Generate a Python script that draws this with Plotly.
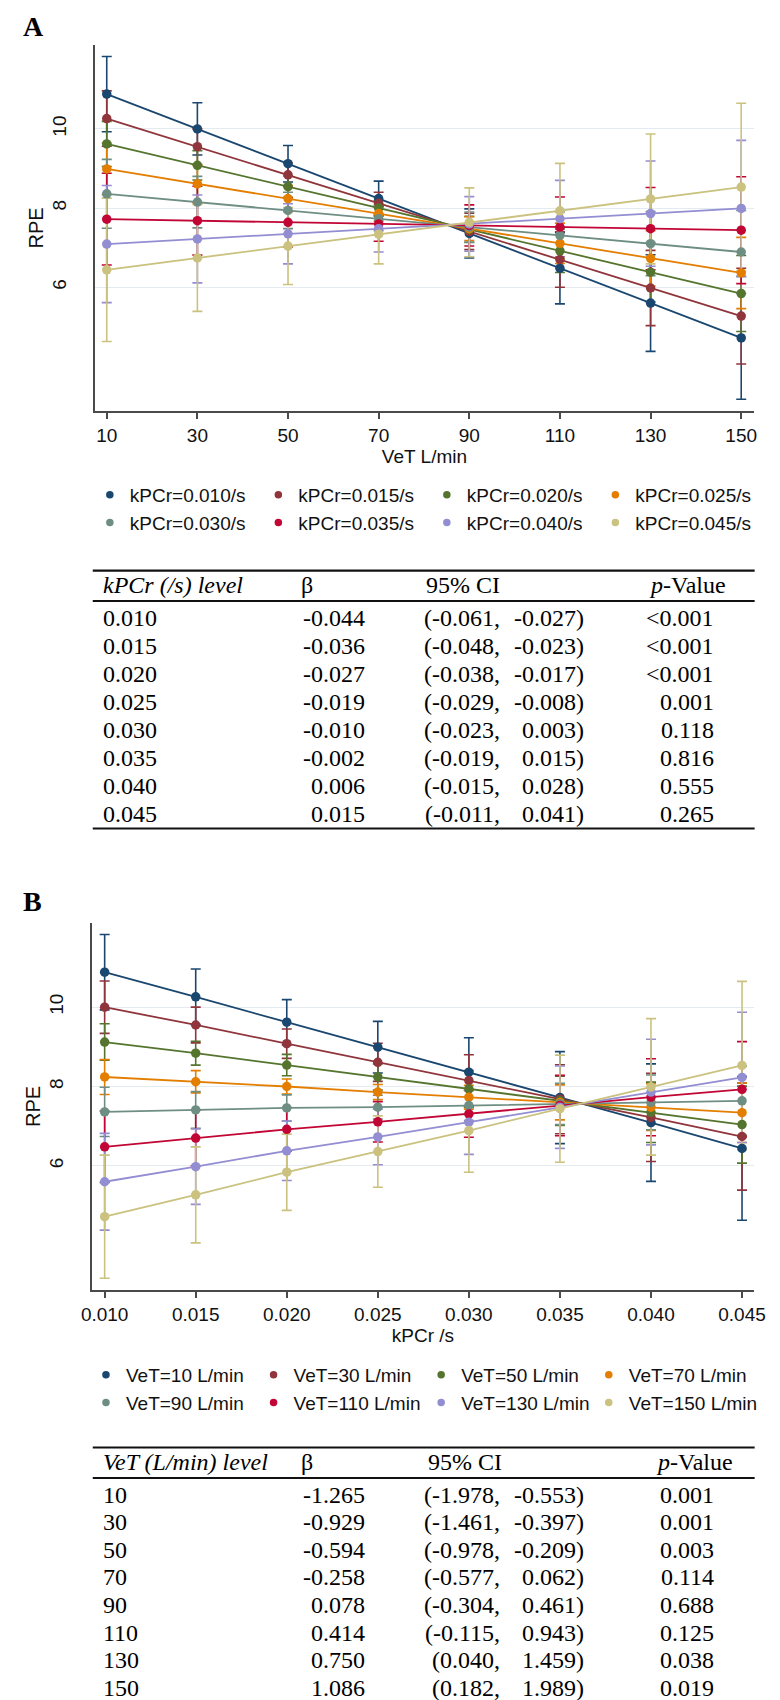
import plotly.graph_objects as go

W, H = 780, 1700

# ---------------- data ----------------
VET_LEVELS = [10, 30, 50, 70, 90, 110, 130, 150]
KPCR_LEVELS = [0.010, 0.015, 0.020, 0.025, 0.030, 0.035, 0.040, 0.045]
KPCR_TICKS = ["0.010", "0.015", "0.020", "0.025", "0.030", "0.035", "0.040", "0.045"]

COLORS = ["#1a476f", "#90353b", "#55752f", "#e37e00",
          "#6e8e84", "#c10534", "#938dd2", "#cac27e"]

# Panel A: predicted RPE vs VeT, one series per kPCr level
A_NAMES = ["kPCr=0.010/s", "kPCr=0.015/s", "kPCr=0.020/s", "kPCr=0.025/s",
           "kPCr=0.030/s", "kPCr=0.035/s", "kPCr=0.040/s", "kPCr=0.045/s"]
A_K010 = [10.88, 10.00, 9.12, 8.24, 7.36, 6.48, 5.60, 4.72]
A_K015 = [10.26, 9.55, 8.84, 8.12, 7.41, 6.70, 5.98, 5.27]
A_K020 = [9.62, 9.08, 8.54, 8.00, 7.46, 6.92, 6.38, 5.84]
A_K025 = [8.99, 8.61, 8.24, 7.86, 7.48, 7.11, 6.73, 6.36]
A_K030 = [8.36, 8.15, 7.94, 7.73, 7.52, 7.31, 7.10, 6.89]
A_K035 = [7.72, 7.68, 7.64, 7.60, 7.56, 7.52, 7.48, 7.44]
A_K040 = [7.09, 7.22, 7.35, 7.48, 7.60, 7.73, 7.86, 7.99]
A_K045 = [6.44, 6.74, 7.04, 7.34, 7.64, 7.93, 8.23, 8.53]
# 95% CI half-widths
A_CI_K010 = [0.95, 0.66, 0.46, 0.44, 0.62, 0.90, 1.22, 1.55]
A_CI_K015 = [0.70, 0.45, 0.30, 0.28, 0.46, 0.70, 0.95, 1.21]
A_CI_K020 = [0.57, 0.37, 0.27, 0.19, 0.33, 0.55, 0.75, 0.96]
A_CI_K025 = [0.65, 0.48, 0.33, 0.19, 0.30, 0.51, 0.70, 0.90]
A_CI_K030 = [0.87, 0.65, 0.46, 0.30, 0.38, 0.59, 0.81, 1.05]
A_CI_K035 = [1.16, 0.87, 0.62, 0.44, 0.52, 0.76, 1.04, 1.35]
A_CI_K040 = [1.48, 1.11, 0.76, 0.59, 0.69, 0.97, 1.33, 1.72]
A_CI_K045 = [1.81, 1.35, 0.97, 0.75, 0.87, 1.20, 1.64, 2.12]

# Panel B: predicted RPE vs kPCr, one series per VeT level
B_NAMES = ["VeT=10 L/min", "VeT=30 L/min", "VeT=50 L/min", "VeT=70 L/min",
           "VeT=90 L/min", "VeT=110 L/min", "VeT=130 L/min", "VeT=150 L/min"]
B_V10 = [10.88, 10.26, 9.62, 8.99, 8.36, 7.72, 7.09, 6.44]
B_V30 = [10.00, 9.55, 9.08, 8.61, 8.15, 7.68, 7.22, 6.74]
B_V50 = [9.12, 8.84, 8.54, 8.24, 7.94, 7.64, 7.35, 7.04]
B_V70 = [8.24, 8.12, 8.00, 7.86, 7.73, 7.60, 7.48, 7.34]
B_V90 = [7.36, 7.41, 7.46, 7.48, 7.52, 7.56, 7.60, 7.64]
B_V110 = [6.48, 6.70, 6.92, 7.11, 7.31, 7.52, 7.73, 7.93]
B_V130 = [5.60, 5.98, 6.38, 6.73, 7.10, 7.48, 7.86, 8.23]
B_V150 = [4.72, 5.27, 5.84, 6.36, 6.89, 7.44, 7.99, 8.53]
B_CI_V10 = [0.95, 0.70, 0.57, 0.65, 0.87, 1.16, 1.48, 1.81]
B_CI_V30 = [0.66, 0.45, 0.37, 0.48, 0.65, 0.87, 1.11, 1.35]
B_CI_V50 = [0.46, 0.30, 0.27, 0.33, 0.46, 0.62, 0.76, 0.97]
B_CI_V70 = [0.44, 0.28, 0.19, 0.19, 0.30, 0.44, 0.59, 0.75]
B_CI_V90 = [0.62, 0.46, 0.33, 0.30, 0.38, 0.52, 0.69, 0.87]
B_CI_V110 = [0.90, 0.70, 0.55, 0.51, 0.59, 0.76, 0.97, 1.20]
B_CI_V130 = [1.22, 0.95, 0.75, 0.70, 0.81, 1.04, 1.33, 1.64]
B_CI_V150 = [1.55, 1.21, 0.96, 0.90, 1.05, 1.35, 1.72, 2.12]

# Tables
TA_HEADER = "kPCr (/s) level"
TA_LEVEL = ["0.010", "0.015", "0.020", "0.025", "0.030", "0.035", "0.040", "0.045"]
TA_BETA = ["-0.044", "-0.036", "-0.027", "-0.019", "-0.010", "-0.002", "0.006", "0.015"]
TA_CI_LO = ["-0.061", "-0.048", "-0.038", "-0.029", "-0.023", "-0.019", "-0.015", "-0.011"]
TA_CI_HI = ["-0.027", "-0.023", "-0.017", "-0.008", "0.003", "0.015", "0.028", "0.041"]
TA_P = ["<0.001", "<0.001", "<0.001", "0.001", "0.118", "0.816", "0.555", "0.265"]

TB_HEADER = "VeT (L/min) level"
TB_LEVEL = ["10", "30", "50", "70", "90", "110", "130", "150"]
TB_BETA = ["-1.265", "-0.929", "-0.594", "-0.258", "0.078", "0.414", "0.750", "1.086"]
TB_CI_LO = ["-1.978", "-1.461", "-0.978", "-0.577", "-0.304", "-0.115", "0.040", "0.182"]
TB_CI_HI = ["-0.553", "-0.397", "-0.209", "0.062", "0.461", "0.943", "1.459", "1.989"]
TB_P = ["0.001", "0.001", "0.003", "0.114", "0.688", "0.125", "0.038", "0.019"]

A_SERIES = [A_K010, A_K015, A_K020, A_K025, A_K030, A_K035, A_K040, A_K045]
A_CIS = [A_CI_K010, A_CI_K015, A_CI_K020, A_CI_K025, A_CI_K030, A_CI_K035, A_CI_K040, A_CI_K045]
B_SERIES = [B_V10, B_V30, B_V50, B_V70, B_V90, B_V110, B_V130, B_V150]
B_CIS = [B_CI_V10, B_CI_V30, B_CI_V50, B_CI_V70, B_CI_V90, B_CI_V110, B_CI_V130, B_CI_V150]

# ---------------- helpers ----------------
def px(x):
    return x / W

def py(y):
    return 1 - y / H

SANS = "Liberation Sans, Arial, Helvetica, sans-serif"
SERIF = "Liberation Serif, Times New Roman, Times, serif"
AXC = "#4a4a4a"

fig = go.Figure()

def add_panel(xs, series, cis, names, xa, ya, legend):
    # CIs first (drawn underneath all lines)
    for vals, ci, col in zip(series, cis, COLORS):
        fig.add_trace(go.Scatter(
            x=xs, y=vals, mode="markers", xaxis=xa, yaxis=ya,
            marker=dict(size=2, opacity=0, color=col),
            error_y=dict(type="data", array=ci, visible=True, color=col,
                         thickness=1.6, width=5),
            showlegend=False, hoverinfo="skip"))
    for vals, col in zip(series, COLORS):
        fig.add_trace(go.Scatter(
            x=xs, y=vals, mode="lines+markers", xaxis=xa, yaxis=ya,
            line=dict(color=col, width=1.8),
            marker=dict(color=col, size=9.5),
            showlegend=False))
    for name, col in zip(names, COLORS):
        fig.add_trace(go.Scatter(
            x=[None], y=[None], mode="markers", xaxis=xa, yaxis=ya,
            marker=dict(color=col, size=7.5), name=name, legend=legend))

add_panel(VET_LEVELS, A_SERIES, A_CIS, A_NAMES, "x", "y", "legend")
add_panel(KPCR_LEVELS, B_SERIES, B_CIS, B_NAMES, "x2", "y2", "legend2")

yaxis_common = dict(
    range=[2.88, 12.12], tickvals=[6, 8, 10], ticktext=["6", "8", "10"],
    tickangle=-90, ticks="", showgrid=True, gridcolor="#e3eaf0", gridwidth=1,
    zeroline=False, showline=True, linecolor=AXC, linewidth=1.5,
    tickfont=dict(family=SANS, size=19, color="#111"),
    title=dict(text="RPE", font=dict(family=SANS, size=20, color="#111"), standoff=0),
    ticklabelstandoff=20,
)
xaxis_common = dict(
    showgrid=False, zeroline=False, showline=True, linecolor=AXC, linewidth=1.5,
    ticks="outside", ticklen=7, tickwidth=1.5, tickcolor=AXC,
    tickfont=dict(family=SANS, size=19, color="#111"),
)

fig.update_layout(
    width=W, height=H, margin=dict(l=0, r=0, t=0, b=0),
    paper_bgcolor="white", plot_bgcolor="white",
    xaxis=dict(domain=[px(78.5), px(757)], anchor="y", range=[7.45, 152.75],
               tickvals=VET_LEVELS,
               title=dict(text="VeT L/min", font=dict(family=SANS, size=19, color="#111"), standoff=4),
               **xaxis_common),
    yaxis=dict(domain=[py(402.7), py(37)], anchor="x", **yaxis_common),
    xaxis2=dict(domain=[px(75.5), px(757)], anchor="y2", range=[0.00932, 0.04564],
                tickvals=KPCR_LEVELS, ticktext=KPCR_TICKS,
                title=dict(text="kPCr /s", font=dict(family=SANS, size=19, color="#111"), standoff=4),
                **xaxis_common),
    yaxis2=dict(domain=[py(1281.7), py(915)], anchor="x2", **yaxis_common),
    legend=dict(orientation="h", x=px(73), xanchor="left", y=py(468), yanchor="top",
                entrywidth=123.5, font=dict(family=SANS, size=19, color="#111"),
                bgcolor="rgba(0,0,0,0)", tracegroupgap=0),
    legend2=dict(orientation="h", x=px(69), xanchor="left", y=py(1348), yanchor="top",
                 entrywidth=122.6, font=dict(family=SANS, size=19, color="#111"),
                 bgcolor="rgba(0,0,0,0)", tracegroupgap=0),
    showlegend=True,
)

annotations = []
shapes = []

def txt(x, y, s, anchor="left", size=24, italic=False, family=SERIF, bold=False):
    if italic:
        s = "<i>" + s + "</i>"
    if bold:
        s = "<b>" + s + "</b>"
    annotations.append(dict(x=px(x), y=py(y), xref="paper", yref="paper",
                            text=s, showarrow=False, xanchor=anchor, yanchor="middle",
                            font=dict(family=family, size=size, color="#000"),
                            borderpad=0))

def hline(y, x0, x1, w=2.2):
    shapes.append(dict(type="line", xref="paper", yref="paper",
                       x0=px(x0), x1=px(x1), y0=py(y), y1=py(y),
                       line=dict(color="#111", width=w)))

def esc(s):
    return s.replace("<", "&lt;")

def table(top, header_y, header_line, row0, step, bottom, header, level, beta, lo, hi, p,
          ci_x, p_head_x):
    hline(top, 76, 758)
    hline(header_line, 76, 758)
    hline(bottom, 76, 758)
    txt(86, header_y, header, italic=True)
    txt(290, header_y, "β")
    txt(ci_x, header_y, "95% CI")
    txt(p_head_x, header_y, "<i>p</i>-Value")
    for i in range(len(level)):
        y = row0 + step * i
        txt(86, y, level[i])
        txt(358, y, beta[i], anchor="right")
        txt(497, y, "(" + lo[i] + ",", anchor="right")
        txt(583, y, hi[i] + ")", anchor="right")
        txt(717, y, esc(p[i]), anchor="right")

table(562.7, 577, 593, 610, 28.0, 820.5, TA_HEADER, TA_LEVEL, TA_BETA,
      TA_CI_LO, TA_CI_HI, TA_P, 418, 648)
table(1439.5, 1454, 1470, 1486.5, 27.6, 1695, TB_HEADER, TB_LEVEL, TB_BETA,
      TB_CI_LO, TB_CI_HI, TB_P, 420, 655)

# panel letters
txt(3, 18, "A", size=28, bold=True)
txt(3, 893, "B", size=28, bold=True)

fig.update_layout(annotations=annotations, shapes=shapes)
fig.write_html("out.html")
